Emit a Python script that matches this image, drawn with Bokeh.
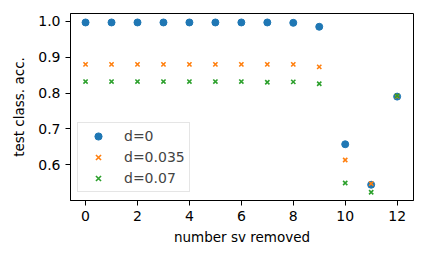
from bokeh.plotting import figure
from bokeh.models import Range1d, FixedTicker, Legend, LegendItem, PrintfTickFormatter
from bokeh.embed import file_html
from bokeh.resources import INLINE

n_removed = [0, 1, 2, 3, 4, 5, 6, 7, 8, 9, 10, 11, 12]
acc_d0 = [0.997, 0.997, 0.997, 0.997, 0.997, 0.997, 0.997, 0.997, 0.996, 0.985, 0.657, 0.544, 0.790]
acc_d035 = [0.880, 0.880, 0.880, 0.880, 0.880, 0.880, 0.880, 0.880, 0.880, 0.873, 0.613, 0.547, 0.791]
acc_d07 = [0.832, 0.832, 0.832, 0.832, 0.832, 0.832, 0.832, 0.830, 0.831, 0.826, 0.549, 0.523, 0.792]
labels = ["d=0", "d=0.035", "d=0.07"]
x_ticks = [0, 2, 4, 6, 8, 10, 12]
y_ticks = [0.6, 0.7, 0.8, 0.9, 1.0]

FONT = "DejaVu Sans"

p = figure(width=426, height=261, output_backend="svg", toolbar_location=None,
           x_range=Range1d(-0.58, 12.63), y_range=Range1d(0.5, 1.022),
           min_border_left=70, min_border_right=13, min_border_top=13, min_border_bottom=61)
p.grid.visible = False
p.outline_line_color = "black"
p.outline_line_width = 1
p.background_fill_color = "white"
p.border_fill_color = "white"

for ax in (p.xaxis[0], p.yaxis[0]):
    ax.minor_tick_line_color = None
    ax.major_tick_in = 0
    ax.major_tick_out = 5
    ax.major_label_text_font = FONT
    ax.major_label_text_font_size = "14px"
    ax.major_label_text_color = "black"
    ax.axis_label_text_font = FONT
    ax.axis_label_text_font_size = "13.5px"
    ax.axis_label_text_font_style = "normal"
    ax.axis_label_text_color = "black"
    ax.axis_line_color = "black"
    ax.major_tick_line_color = "black"

p.xaxis.ticker = FixedTicker(ticks=x_ticks)
p.yaxis.ticker = FixedTicker(ticks=y_ticks)
p.yaxis.formatter = PrintfTickFormatter(format="%.1f")
p.xaxis.axis_label = "number sv removed"
p.yaxis.axis_label = "test class. acc."
p.xaxis.axis_label_standoff = 5
p.yaxis.axis_label_standoff = 8

r0 = p.scatter(n_removed, acc_d0, marker="circle", size=7, fill_color="#1f77b4", line_color="#1f77b4")
r1 = p.scatter(n_removed, acc_d035, marker="x", size=6, line_color="#ff7f0e", line_width=1.6)
r2 = p.scatter(n_removed, acc_d07, marker="x", size=6, line_color="#2ca02c", line_width=1.6)

legend = Legend(items=[LegendItem(label=labels[0], renderers=[r0]),
                       LegendItem(label=labels[1], renderers=[r1]),
                       LegendItem(label=labels[2], renderers=[r2])],
                location=(7, 8), label_text_font=FONT, label_text_font_size="14px",
                glyph_width=32, glyph_height=18, label_height=18, spacing=3,
                padding=4, label_standoff=10, margin=0,
                border_line_color="#cccccc", border_line_width=1,
                background_fill_alpha=0.8)
p.add_layout(legend)

open("out.html", "w").write(file_html(p, INLINE))
